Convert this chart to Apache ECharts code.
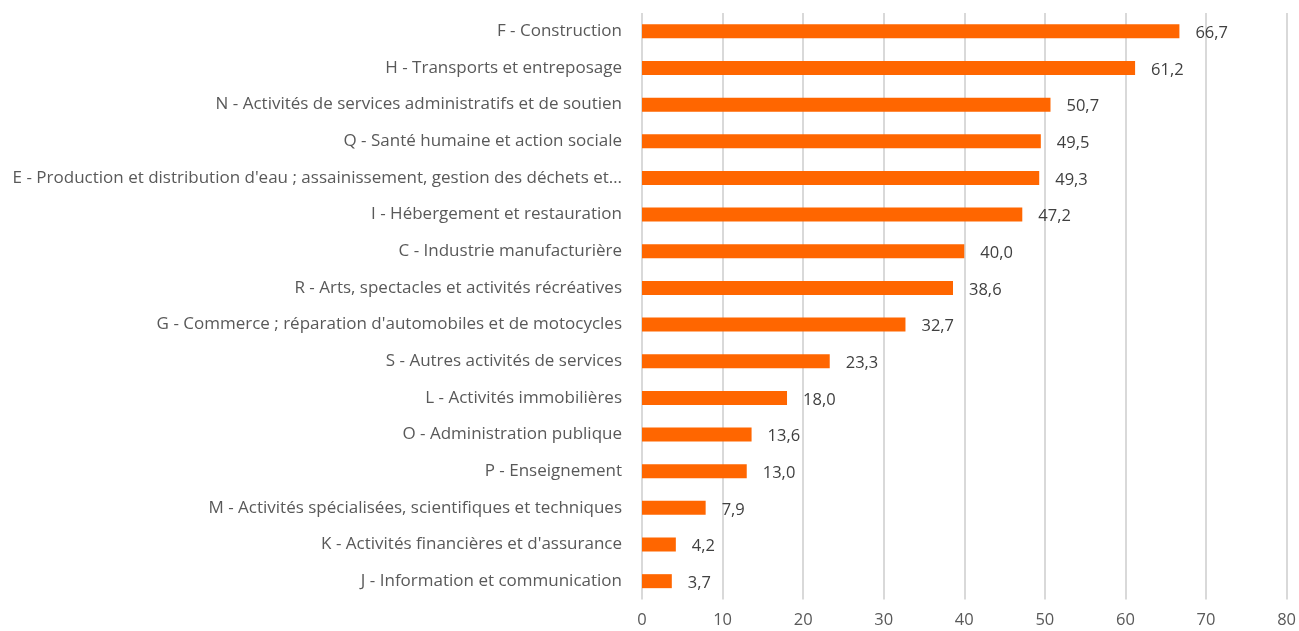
<!DOCTYPE html>
<html><head><meta charset="utf-8">
<script src="https://cdn.jsdelivr.net/npm/echarts@6/dist/echarts.min.js"></script>
<style>html,body{margin:0;padding:0;background:#fff}#c{width:1299px;height:631px}</style>
</head><body><div id="c"></div>
<script>
const categories = [
  "F - Construction",
  "H - Transports et entreposage",
  "N - Activités de services administratifs et de soutien",
  "Q - Santé humaine et action sociale",
  "E - Production et distribution d'eau ; assainissement, gestion des déchets et…",
  "I - Hébergement et restauration",
  "C - Industrie manufacturière",
  "R - Arts, spectacles et activités récréatives",
  "G - Commerce ; réparation d'automobiles et de motocycles",
  "S - Autres activités de services",
  "L - Activités immobilières",
  "O - Administration publique",
  "P - Enseignement",
  "M - Activités spécialisées, scientifiques et techniques",
  "K - Activités financières et d'assurance",
  "J - Information et communication"
];
const values = [66.7, 61.2, 50.7, 49.5, 49.3, 47.2, 40.0, 38.6, 32.7, 23.3, 18.0, 13.6, 13.0, 7.9, 4.2, 3.7];
const xTicks = [0, 10, 20, 30, 40, 50, 60, 70, 80];

const chart = echarts.init(document.getElementById('c'));
const font = "'Open Sans', 'DejaVu Sans', sans-serif";
chart.setOption({
  animation: false,
  grid: { left: 642, right: 11, top: 13, bottom: 31.5, containLabel: false },
  xAxis: {
    type: 'value', min: xTicks[0], max: xTicks[xTicks.length-1], interval: 10,
    axisLine: { show: false }, axisTick: { show: false },
    splitLine: { show: true, lineStyle: { color: '#d9d9d9', width: 2 } },
    axisLabel: { color: '#595959', fontSize: 16.5, fontFamily: font, margin: 12 }
  },
  yAxis: {
    type: 'category', data: categories, inverse: true,
    axisLine: { show: false }, axisTick: { show: false },
    axisLabel: { color: '#595959', fontSize: 17, fontFamily: font, margin: 20 }
  },
  series: [{
    type: 'bar', data: values, barWidth: 14,
    itemStyle: { color: '#ff6600' },
    label: {
      show: true, position: 'right', distance: 16, offset: [0, 2],
      color: '#404040', fontSize: 16.5, fontFamily: font,
      formatter: p => p.value.toFixed(1).replace('.', ',')
    }
  }]
});
</script></body></html>
